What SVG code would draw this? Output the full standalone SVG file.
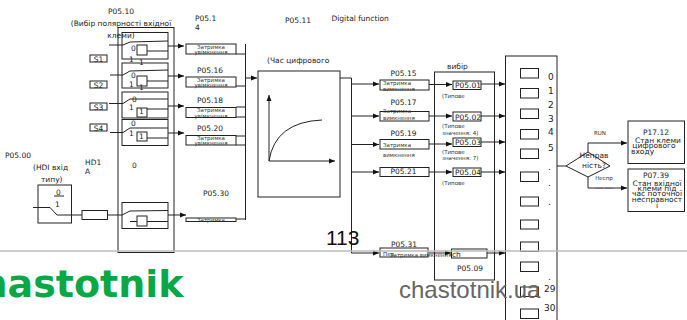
<svg xmlns="http://www.w3.org/2000/svg" width="687" height="320" viewBox="0 0 687 320">
<style>
text{font-family:"DejaVu Sans",sans-serif;fill:#222;font-size:7.5px}
.s{font-size:5.5px;fill:#333}
.c{text-anchor:middle}
.b{fill:#fff;stroke:#222;stroke-width:1}
.n{fill:none;stroke:#222;stroke-width:1}
.l{fill:none;stroke:#222;stroke-width:1}
.d{font-size:9px}
</style>
<defs>
<marker id="a" markerWidth="7" markerHeight="6" refX="6" refY="3" orient="auto" markerUnits="userSpaceOnUse"><path d="M0 0.5L6 3L0 5.500Z" fill="#111"/></marker>
</defs>
<g id="outer-selector"><rect class="n" x="118" y="27.500" width="56" height="225"/><rect class="n" x="434.500" y="72" width="60" height="208"/></g>
<g id="connectors">
<path class="l" d="M109 45H123L130 42M110 75H123L130 71M109 103.500H123L130 99M110 132.500H123L130 128"/>
<path class="l" d="M130 42L168 41M130 71L168 70M130 99L168 99M130 128L168 128"/>
<path class="l" d="M147 51H168M147 81H168M147 109H168M147 138H168"/>
<path class="l" d="M168 46H184" marker-end="url(#a)"/>
<path class="l" d="M168 76H184" marker-end="url(#a)"/>
<path class="l" d="M168 106H184" marker-end="url(#a)"/>
<path class="l" d="M168 133H184" marker-end="url(#a)"/>
<path class="l" d="M168 215H186" marker-end="url(#a)"/>
<path class="l" d="M33 207.500H50L57 215H82M108 215H122L130 211L168 210.500M130 221.500H168"/>
<path class="l" d="M236 54H245.500M236 86H245.500M236 107H245.500M236 117H245.500M236 136H245.500M236 145H245.500M236 219H245.500M245.500 44V220"/>
<path class="l" d="M245.500 78H257" marker-end="url(#a)"/>
<path class="l" d="M340 78H351.500V253"/>
<path class="l" d="M351.500 84H379" marker-end="url(#a)"/>
<path class="l" d="M351.500 116H379" marker-end="url(#a)"/>
<path class="l" d="M351.500 144.500H379" marker-end="url(#a)"/>
<path class="l" d="M351.500 172H379" marker-end="url(#a)"/>
<path class="l" d="M351.500 253H379" marker-end="url(#a)"/>
<path class="l" d="M429 84.500H452" marker-end="url(#a)"/>
<path class="l" d="M429 116H452" marker-end="url(#a)"/>
<path class="l" d="M429 144H452" marker-end="url(#a)"/>
<path class="l" d="M429 172H452" marker-end="url(#a)"/>
<path class="l" d="M429 253H451" marker-end="url(#a)"/>
<path class="l" d="M481 84H505" marker-end="url(#a)"/>
<path class="l" d="M481 116H505" marker-end="url(#a)"/>
<path class="l" d="M481 142H505" marker-end="url(#a)"/>
<path class="l" d="M481 172H505" marker-end="url(#a)"/>
<path class="l" d="M487 253H505" marker-end="url(#a)"/>
<path class="l" d="M557 166H566"/>
<path class="l" d="M588 152V143H627" marker-end="url(#a)"/>
<path class="l" d="M588 177V188H627" marker-end="url(#a)"/>
</g>
<g id="switches">
<rect class="n" x="122" y="32.500" width="46" height="26.500"/><rect class="n" x="122" y="63" width="46" height="25"/><rect class="n" x="122" y="92" width="46" height="26"/><rect class="n" x="122" y="119.500" width="46" height="26"/><rect class="n" x="122" y="202.500" width="46" height="26"/>
<rect class="b" x="137" y="45" width="10" height="10"/><rect class="b" x="137" y="76" width="10" height="10"/><rect class="b" x="137" y="108" width="10" height="9"/><rect class="b" x="137" y="132" width="10" height="9"/><rect class="b" x="137" y="216" width="10" height="10"/>
<text x="131" y="51">0</text><text x="129" y="62">1</text><text x="139" y="65">1</text>
<text x="131" y="78">0</text><text x="129" y="87">1</text><text x="139" y="90">1</text>
<text x="132" y="102">0</text><text x="129" y="110">1</text><text x="139" y="114">1</text>
<text x="131" y="126">0</text><text x="129" y="136">1</text><text x="139" y="139">1</text>
<text x="132" y="168">0</text>
</g>
<g id="inputs">
<rect class="b" x="90" y="55" width="17" height="7"/><text class="c" x="98.500" y="61.500">S1</text>
<rect class="b" x="90" y="81" width="17" height="7"/><text class="c" x="98.500" y="87.500">S2</text>
<rect class="b" x="90" y="103" width="17" height="7"/><text class="c" x="98.500" y="109.500">S3</text>
<rect class="b" x="90" y="124" width="17" height="7"/><text class="c" x="98.500" y="130.500">S4</text>
</g>
<g id="hdi">
<rect class="n" x="38" y="185" width="33.500" height="38"/>
<text x="56" y="195">0</text><path class="l" d="M54 196H64"/><text x="55" y="207">1</text>
<text x="5" y="158">P05.00</text><text x="33" y="170">(HDI вхід</text><text x="41" y="182">типу)</text>
<text x="85" y="165">HD1</text><text x="85" y="174">A</text>
<rect class="b" x="82" y="210.500" width="25.500" height="9"/>
</g>
<g id="delays-left">
<text class="c" x="121" y="14">P05.10</text><text class="c" x="121" y="26">(Вибір полярності вхідної</text><text class="c" x="121" y="37.500">клеми)</text>
<text x="195" y="21">P05.1</text><text x="195" y="30">4</text>
<rect class="b" x="186" y="44" width="50" height="10"/><text class="s c" x="211" y="49">Затримка</text><text class="s c" x="211" y="54">увімкнення</text>
<text class="c" x="210" y="73">P05.16</text>
<rect class="b" x="186" y="77" width="50" height="10"/><text class="s c" x="211" y="81.500">Затримка</text><text class="s c" x="211" y="87">увімкнення</text>
<text class="c" x="210" y="103">P05.18</text>
<rect class="b" x="186" y="107.500" width="50" height="10"/><text class="s c" x="211" y="112">Затримка</text><text class="s c" x="211" y="117.500">увімкнення</text>
<text class="c" x="210" y="131">P05.20</text>
<rect class="b" x="186" y="135.500" width="50" height="9.500"/><text class="s c" x="211" y="140">Затримка</text><text class="s c" x="211" y="145">увімкнення</text>
<text class="c" x="216" y="196">P05.30</text>
<rect class="b" x="186" y="218" width="50" height="3.500"/><text class="s c" x="211" y="222">Затримка</text>
</g>
<g id="timer">
<text x="285" y="23">P05.11</text><text x="331.500" y="20.500">Digital function</text>
<text x="267" y="63">(Час цифрового</text>
<rect class="n" x="258" y="71" width="82" height="126"/>
<path class="l" d="M269 161V95" marker-end="url(#a)"/>
<path class="l" d="M269 161H335" marker-end="url(#a)"/>
<path class="l" d="M269 161Q275 122 322 120"/>
</g>
<g id="delays-right">
<text class="c" x="403.500" y="76">P05.15</text>
<rect class="b" x="380" y="80" width="49" height="10"/><text class="s" x="383" y="85">Затримка</text><text class="s" x="383" y="91">вимкнення</text>
<text class="c" x="403.500" y="105">P05.17</text>
<rect class="b" x="380" y="111.500" width="49" height="9.500"/><text class="s" x="383" y="112.500">Затримка</text><text class="s" x="383" y="119.500">вимкнення</text>
<text class="c" x="403.500" y="136">P05.19</text>
<rect class="b" x="380" y="139.500" width="49" height="9.500"/><text class="s" x="383" y="147">Затримка</text><text class="s" x="383" y="157">вимкнення</text>
<rect class="b" x="380" y="167.500" width="49" height="9"/><text class="c" x="403.500" y="174">P05.21</text>
<text class="c" x="404" y="247">P05.31</text>
<rect class="b" x="380" y="248" width="48" height="9"/><text class="s" x="383" y="256">Пер</text><text class="s" x="390" y="257">Затримка вимкнення</text>
</g>
<g id="selector">
<text x="447" y="69">вибір</text>
<rect class="b" x="453" y="81" width="28" height="8.500"/><text x="455" y="88">P05.01</text><text class="s" x="442" y="98">(Типове</text>
<rect class="b" x="453" y="112" width="28" height="9"/><text x="455" y="120">P05.02</text><text class="s" x="442" y="128">(Типове</text><text class="s" x="442" y="135">значення: 4)</text>
<rect class="b" x="453" y="138" width="28" height="8.500"/><text x="455" y="145">P05.03</text><text class="s" x="442" y="154">(Типове</text><text class="s" x="442" y="160">значення: 7)</text>
<rect class="b" x="453" y="168" width="28" height="8.500"/><text x="455" y="175">P05.04</text><text class="s" x="442" y="185">(Типове</text>
<rect class="b" x="451.500" y="249" width="35.500" height="9"/><text x="452" y="257">ch</text>
<text x="457" y="271">P05.09</text>
</g>
<g id="outputs">
<rect class="n" x="505.500" y="56" width="51.500" height="270"/>
<rect class="n" x="520.500" y="68.500" width="18" height="9.500"/><rect class="n" x="520.500" y="88.500" width="18" height="9.500"/><rect class="n" x="520.500" y="109" width="18" height="9.500"/><rect class="n" x="520.500" y="129.500" width="18" height="9.500"/><rect class="n" x="520.500" y="149" width="18" height="9.500"/><rect class="n" x="520.500" y="172" width="18" height="9.500"/><rect class="n" x="520.500" y="197" width="18" height="9"/><rect class="n" x="520.500" y="220" width="18" height="9"/><rect class="n" x="520.500" y="242" width="18" height="9.500"/><rect class="n" x="520.500" y="262" width="18" height="9.500"/><rect class="n" x="520.500" y="287" width="18" height="9.500"/><rect class="n" x="520.500" y="309" width="18" height="9.500"/>
<text class="d" x="548" y="80">0</text><text class="d" x="548" y="94">1</text><text class="d" x="548" y="108">2</text><text class="d" x="548" y="122">3</text><text class="d" x="548" y="135">4</text><text class="d" x="548" y="151">5</text><text class="d" x="548" y="170">.</text><text class="d" x="548" y="186">.</text><text class="d" x="548" y="205">.</text><text class="d" x="548" y="280">.</text><text class="d" x="544" y="292">29</text><text class="d" x="544" y="311">30</text>
</g>
<g id="decision">
<path class="b" d="M566 166L588 152L610 166L588 177Z"/>
<text class="c" x="594" y="158">Неправ</text><text class="c" x="594" y="168">ність?</text>
<text class="s c" x="600" y="135">RUN</text><text class="s c" x="604" y="180">Неспр</text><text class="s c" x="604" y="187">___ ___</text>
</g>
<g id="p1712">
<rect class="n" x="628" y="121" width="56.500" height="42.500"/>
<text class="c" x="656" y="135">P17.12</text><text class="c" x="658" y="143">Стан клеми</text><text class="c" x="654" y="148">цифрового</text><text x="631" y="154">входу</text>
</g>
<g id="p0739">
<rect class="n" x="628" y="169" width="56.500" height="42.500"/>
<text class="c" x="656" y="178">P07.39</text><text class="c" x="657" y="186">Стан вхідної</text><text class="c" x="657" y="191">клеми під</text><text class="c" x="657" y="196">час поточної</text><text class="c" x="657" y="202">несправност</text><text class="c" x="657" y="208">і</text>
</g>
<g id="watermark">
<text x="326" y="245" style="font-family:'Liberation Sans',sans-serif;font-size:21px;fill:#111">113</text>
<path d="M0 251H687" stroke="#bbb" stroke-width="1.500" fill="none"/>
<text x="-42" y="297" style="font-size:38px;font-weight:bold;fill:#0aa844">chastotnik</text>
<text x="399" y="298" style="font-family:'Liberation Sans',sans-serif;font-size:24px;fill:#666">chastotnik.ua</text>
</g>
</svg>
